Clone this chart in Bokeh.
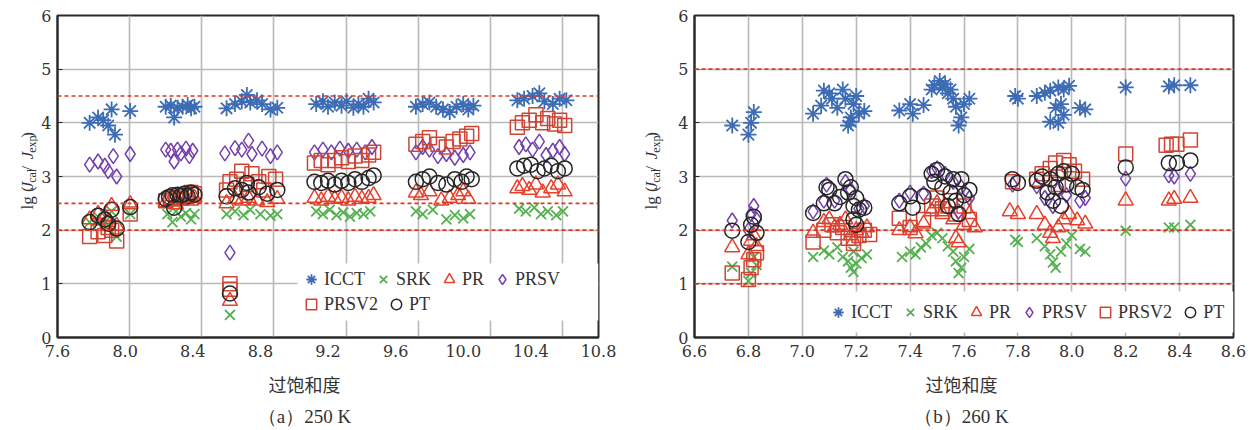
from bokeh.plotting import figure
from bokeh.models import (Range1d, FixedTicker, PrintfTickFormatter, Span, Legend,
                          LegendItem, Label, BoxAnnotation)
from bokeh.layouts import row, column
from bokeh.embed import file_html
from bokeh.resources import INLINE

# ---------------- data: (supersaturation, lg(Jcal/Jexp)) ----------------
# 250 K
ICCT_250 = [(7.79,4.0),(7.84,4.1),(7.87,4.05),(7.9,3.95),(7.92,4.25),(7.94,3.78),(8.03,4.22),
            (8.24,4.3),(8.27,4.32),(8.29,4.1),(8.31,4.28),(8.34,4.3),(8.37,4.33),(8.39,4.27),(8.41,4.3),
            (8.6,4.27),(8.65,4.35),(8.69,4.4),(8.72,4.52),(8.74,4.38),(8.78,4.42),(8.81,4.35),(8.86,4.25),(8.9,4.28),
            (9.13,4.35),(9.17,4.4),(9.2,4.3),(9.24,4.38),(9.28,4.32),(9.31,4.4),(9.35,4.28),(9.38,4.35),(9.41,4.3),(9.44,4.45),(9.47,4.38),
            (9.72,4.3),(9.76,4.35),(9.8,4.38),(9.84,4.3),(9.88,4.25),(9.92,4.2),(9.96,4.3),(10.0,4.35),(10.03,4.25),(10.06,4.32),
            (10.32,4.42),(10.36,4.45),(10.41,4.5),(10.45,4.55),(10.48,4.4),(10.53,4.35),(10.57,4.45),(10.61,4.42)]
SRK_250 = [(7.79,2.15),(7.84,2.25),(7.88,2.15),(7.9,2.1),(7.92,2.35),(7.95,1.88),(8.03,2.3),
           (8.25,2.3),(8.28,2.15),(8.3,2.35),(8.33,2.25),(8.36,2.32),(8.39,2.2),(8.41,2.3),
           (8.62,0.42),(8.6,2.3),(8.65,2.35),(8.7,2.28),(8.74,2.38),(8.8,2.3),(8.86,2.27),(8.9,2.3),
           (9.13,2.35),(9.17,2.3),(9.21,2.38),(9.25,2.28),(9.29,2.33),(9.33,2.25),(9.37,2.32),(9.41,2.3),(9.45,2.35),
           (9.72,2.35),(9.76,2.3),(9.82,2.38),(9.9,2.2),(9.95,2.28),(10.0,2.22),(10.04,2.3),
           (10.33,2.4),(10.37,2.35),(10.42,2.42),(10.46,2.3),(10.5,2.35),(10.55,2.28),(10.59,2.35)]
PR_250 = [(7.79,2.2),(7.84,2.3),(7.88,2.25),(7.9,2.15),(7.92,2.45),(7.95,2.08),(8.03,2.48),
          (8.24,2.52),(8.27,2.55),(8.3,2.48),(8.33,2.55),(8.36,2.58),(8.39,2.55),(8.41,2.6),
          (8.62,0.68),(8.6,2.5),(8.65,2.58),(8.69,2.55),(8.73,2.6),(8.78,2.55),(8.84,2.52),(8.9,2.58),
          (9.12,2.6),(9.16,2.55),(9.2,2.62),(9.24,2.58),(9.28,2.6),(9.32,2.55),(9.36,2.62),(9.4,2.58),(9.44,2.6),(9.47,2.65),
          (9.72,2.7),(9.75,2.65),(9.8,2.72),(9.87,2.55),(9.92,2.6),(9.97,2.65),(10.0,2.72),(10.03,2.58),
          (10.32,2.78),(10.35,2.82),(10.39,2.75),(10.43,2.85),(10.47,2.7),(10.52,2.78),(10.56,2.85),(10.6,2.72)]
PRSV_250 = [(7.79,3.22),(7.84,3.28),(7.88,3.2),(7.9,3.1),(7.93,3.38),(7.95,3.0),(8.03,3.42),
            (8.24,3.5),(8.27,3.48),(8.29,3.28),(8.31,3.5),(8.33,3.43),(8.36,3.52),(8.38,3.38),(8.4,3.48),
            (8.62,1.58),(8.59,3.43),(8.65,3.53),(8.69,3.5),(8.73,3.67),(8.75,3.42),(8.81,3.52),(8.86,3.38),(8.9,3.45),
            (9.12,3.45),(9.17,3.5),(9.22,3.45),(9.27,3.52),(9.32,3.48),(9.37,3.5),(9.42,3.45),(9.46,3.55),
            (9.72,3.45),(9.76,3.55),(9.8,3.5),(9.85,3.38),(9.9,3.42),(9.95,3.35),(10.0,3.4),(10.04,3.45),
            (10.33,3.55),(10.37,3.6),(10.41,3.5),(10.45,3.65),(10.49,3.4),(10.53,3.48),(10.57,3.55),(10.6,3.42)]
PRSV2_250 = [(7.79,1.88),(7.84,1.97),(7.88,1.9),(7.9,2.05),(7.92,2.0),(7.95,1.8),(8.03,2.3),
             (8.24,2.55),(8.27,2.6),(8.3,2.58),(8.33,2.62),(8.36,2.65),(8.39,2.7),(8.41,2.68),
             (8.62,1.0),(8.62,0.9),(8.6,2.75),(8.62,2.9),(8.66,2.95),(8.69,3.1),(8.72,2.85),(8.75,3.05),(8.79,2.9),(8.82,2.75),(8.85,3.0),(8.89,2.95),
             (9.12,3.25),(9.16,3.3),(9.2,3.22),(9.24,3.3),(9.28,3.35),(9.32,3.28),(9.36,3.38),(9.4,3.3),(9.44,3.4),(9.47,3.45),
             (9.72,3.6),(9.76,3.65),(9.8,3.72),(9.85,3.6),(9.9,3.55),(9.94,3.65),(9.98,3.7),(10.02,3.75),(10.05,3.8),
             (10.32,3.92),(10.35,4.0),(10.39,4.05),(10.43,4.15),(10.47,4.0),(10.5,4.08),(10.54,3.98),(10.57,4.05),(10.6,3.95)]
PT_250 = [(7.79,2.15),(7.84,2.27),(7.88,2.2),(7.9,2.12),(7.92,2.38),(7.95,2.03),(8.03,2.43),
          (8.24,2.58),(8.26,2.62),(8.28,2.65),(8.29,2.42),(8.31,2.66),(8.33,2.64),(8.35,2.68),(8.37,2.63),(8.39,2.7),(8.41,2.66),
          (8.62,0.82),(8.6,2.63),(8.65,2.78),(8.69,2.75),(8.72,2.88),(8.73,2.7),(8.79,2.8),(8.84,2.68),(8.9,2.75),
          (9.12,2.9),(9.16,2.88),(9.2,2.92),(9.24,2.85),(9.28,2.92),(9.32,2.88),(9.36,2.95),(9.4,2.9),(9.44,2.97),(9.47,3.02),
          (9.72,2.9),(9.76,2.95),(9.8,3.0),(9.85,2.88),(9.9,2.85),(9.95,2.95),(9.99,2.9),(10.02,3.0),(10.05,2.95),
          (10.32,3.15),(10.36,3.2),(10.4,3.22),(10.44,3.1),(10.48,3.15),(10.52,3.2),(10.56,3.1),(10.6,3.15)]

# 260 K
ICCT_260 = [(6.74,3.95),(6.8,3.78),(6.81,4.0),(6.82,4.2),
            (7.04,4.17),(7.07,4.32),(7.08,4.6),(7.1,4.55),(7.11,4.45),(7.13,4.28),(7.15,4.62),(7.16,4.45),(7.17,3.95),
            (7.18,4.1),(7.19,4.35),(7.2,4.5),(7.21,4.17),(7.23,4.22),(7.18,4.02),
            (7.36,4.23),(7.4,4.35),(7.41,4.17),(7.45,4.33),(7.48,4.62),(7.49,4.7),(7.51,4.78),(7.52,4.65),(7.53,4.72),
            (7.54,4.55),(7.55,4.62),(7.56,4.45),(7.57,4.3),(7.58,3.95),(7.59,4.1),(7.6,4.35),(7.62,4.45),
            (7.79,4.5),(7.8,4.45),(7.87,4.5),(7.9,4.56),(7.92,4.6),(7.95,4.66),(7.97,4.62),(7.99,4.69),(7.94,4.28),
            (7.96,4.35),(7.92,4.02),(7.95,4.0),(7.97,4.15),(8.03,4.28),(8.05,4.25),
            (8.2,4.66),(8.36,4.68),(8.38,4.7),(8.44,4.7)]
SRK_260 = [(6.74,1.32),(6.8,1.05),(6.81,1.2),(6.82,1.5),(6.83,1.35),
           (7.04,1.5),(7.08,1.62),(7.1,1.55),(7.13,1.68),(7.15,1.5),(7.17,1.42),(7.18,1.3),(7.19,1.22),(7.2,1.38),
           (7.22,1.48),(7.24,1.55),(7.19,1.6),
           (7.37,1.5),(7.4,1.6),(7.42,1.55),(7.44,1.68),(7.46,1.75),(7.48,1.9),(7.5,1.95),(7.52,1.85),(7.54,1.7),
           (7.56,1.6),(7.57,1.42),(7.58,1.2),(7.59,1.3),(7.6,1.5),(7.62,1.65),
           (7.79,1.82),(7.8,1.78),(7.87,1.85),(7.9,1.7),(7.92,1.55),(7.93,1.4),(7.94,1.3),(7.96,1.6),(7.98,1.75),
           (8.0,1.9),(8.03,1.65),(8.05,1.6),
           (8.2,1.99),(8.36,2.05),(8.38,2.05),(8.44,2.1)]
PR_260 = [(6.74,1.68),(6.8,1.55),(6.81,1.8),(6.82,1.9),(6.83,1.7),
          (7.04,1.95),(7.08,2.15),(7.1,2.2),(7.12,2.05),(7.14,2.1),(7.16,2.2),(7.18,1.9),(7.19,1.8),(7.2,2.0),
          (7.22,1.95),(7.24,2.05),
          (7.36,2.0),(7.4,2.05),(7.42,1.94),(7.45,2.12),(7.48,2.35),(7.5,2.5),(7.52,2.3),(7.54,2.4),(7.56,2.2),
          (7.57,1.85),(7.58,1.77),(7.6,2.1),(7.62,2.3),(7.64,2.05),
          (7.77,2.35),(7.8,2.3),(7.87,2.3),(7.9,2.1),(7.92,1.95),(7.93,1.85),(7.95,2.05),(7.97,2.2),(7.99,2.3),
          (8.02,2.18),(8.05,2.12),
          (8.2,2.55),(8.36,2.55),(8.38,2.58),(8.44,2.6)]
PRSV_260 = [(6.74,2.18),(6.8,2.0),(6.81,2.3),(6.82,2.45),(6.83,2.2),
            (7.04,2.35),(7.08,2.55),(7.09,2.85),(7.12,2.55),(7.16,2.9),(7.18,2.75),(7.21,2.4),(7.23,2.45),
            (7.36,2.55),(7.4,2.7),(7.45,2.68),(7.48,3.1),(7.5,3.15),(7.53,3.05),(7.56,2.9),(7.59,2.8),(7.62,2.6),(7.58,2.35),
            (7.78,2.85),(7.87,2.82),(7.9,2.6),(7.93,2.45),(7.95,2.75),(7.98,2.65),(8.03,2.55),(8.05,2.6),
            (8.2,2.96),(8.36,3.02),(8.38,3.0),(8.44,3.05)]
PRSV2_260 = [(6.74,1.2),(6.8,1.08),(6.81,1.3),(6.82,1.45),(6.83,1.58),
             (7.04,1.78),(7.08,2.0),(7.11,2.1),(7.13,1.95),(7.15,2.05),(7.17,1.85),(7.19,1.75),(7.21,1.9),(7.23,2.0),(7.25,1.92),
             (7.36,2.22),(7.4,2.05),(7.45,2.2),(7.48,2.45),(7.5,2.6),(7.52,2.4),(7.55,2.55),(7.57,2.3),(7.6,2.45),(7.62,2.2),
             (7.78,2.9),(7.87,2.95),(7.89,3.05),(7.92,3.15),(7.94,3.25),(7.97,3.3),(7.99,3.22),(8.01,3.1),(8.04,2.95),(7.95,2.85),
             (8.2,3.42),(8.35,3.58),(8.37,3.6),(8.39,3.6),(8.44,3.68)]
PT_260 = [(6.74,1.99),(6.8,1.78),(6.81,2.1),(6.82,2.25),(6.83,1.95),
          (7.04,2.32),(7.08,2.5),(7.09,2.8),(7.1,2.75),(7.12,2.5),(7.14,2.62),(7.16,2.95),(7.17,2.7),(7.18,2.8),
          (7.19,2.45),(7.2,2.6),(7.21,2.38),(7.23,2.42),(7.19,2.2),(7.2,2.1),
          (7.36,2.5),(7.4,2.63),(7.41,2.42),(7.45,2.63),(7.48,3.05),(7.49,2.9),(7.5,3.12),(7.52,2.8),(7.53,3.0),
          (7.55,2.7),(7.56,2.95),(7.57,2.55),(7.58,2.3),(7.59,2.95),(7.6,2.65),(7.62,2.75),(7.54,2.45),
          (7.78,2.95),(7.8,2.88),(7.87,2.92),(7.89,3.0),(7.91,2.7),(7.92,2.95),(7.93,2.55),(7.94,2.8),(7.95,3.05),
          (7.97,3.1),(7.98,2.85),(8.0,3.05),(8.02,2.8),(8.04,2.75),(7.96,2.45),
          (8.2,3.17),(8.36,3.25),(8.39,3.25),(8.44,3.3)]

SERIES = ["ICCT", "SRK", "PR", "PRSV", "PRSV2", "PT"]
DATA_250 = [ICCT_250, SRK_250, PR_250, PRSV_250, PRSV2_250, PT_250]
DATA_260 = [ICCT_260, SRK_260, PR_260, PRSV_260, PRSV2_260, PT_260]

X_TICKS_250 = [7.6, 8.0, 8.4, 8.8, 9.2, 9.6, 10.0, 10.4, 10.8]
X_TICKS_260 = [6.6, 6.8, 7.0, 7.2, 7.4, 7.6, 7.8, 8.0, 8.2, 8.4, 8.6]
Y_TICKS = [0, 1, 2, 3, 4, 5, 6]
REF_250 = [2.0, 2.5, 4.5]
REF_260 = [1.0, 2.0, 5.0]
CAPTION_250 = "（a）250 K"
CAPTION_260 = "（b）260 K"
X_TITLE = "过饱和度"

# ---------------- styling ----------------
MARKERS = {"ICCT": "asterisk", "SRK": "x", "PR": "triangle", "PRSV": "diamond",
           "PRSV2": "square", "PT": "circle"}
COLORS = {"ICCT": "#3d6cb4", "SRK": "#55b04f", "PR": "#e8402a", "PRSV": "#7440ad",
          "PRSV2": "#cf4535", "PT": "#262626"}
SIZES = {"ICCT": 16, "SRK": 14, "PR": 15, "PRSV": 15, "PRSV2": 14, "PT": 15}
SERIF = "Times New Roman"
AXIS_FONT = "DejaVu Serif"
CJK = "Noto Sans CJK SC"
TXT = "#333333"
W, H = 1250, 430
TOP, FH = 15, 322
TOPROW_H = 372          # height of the row that holds the two panels
BOT_H = H - TOPROW_H    # strip with x titles and captions


def blank(width, height, xr, yr):
    f = figure(width=width, height=height, x_range=Range1d(*xr), y_range=Range1d(*yr),
               x_axis_type=None, y_axis_type=None, min_border=0, output_backend="svg",
               toolbar_location=None, outline_line_color=None,
               background_fill_color="white", border_fill_color="white")
    f.xgrid.visible = False
    f.ygrid.visible = False
    return f


def y_title(width, base_x):
    # canvas-pixel coordinates: x to the right, y = 430 - canvas_y
    f = blank(width, TOPROW_H, (0, width), (H - TOPROW_H, H))
    parts = [("lg (", "normal", 17, 0, 1.361), ("J", "italic", 17, 0, 0.444),
             ("cal", "normal", 12, 4, 1.166), (" / ", "normal", 17, 0, 0.778),
             ("J", "italic", 17, 0, 0.444), ("exp", "normal", 12, 4, 1.444),
             (")", "normal", 17, 0, 0.333)]
    py = 224.0
    for text, style, fs, sub, em in parts:
        f.add_layout(Label(x=base_x + sub, y=H - py, text=text, angle=1.5707963,
                           text_font=SERIF, text_font_style=style, text_font_size=f"{fs}px",
                           text_color=TXT, text_align="left", text_baseline="alphabetic"))
        py -= em * fs
    return f


def make_panel(data, xr, xticks, grid_x, border_l, fw, border_r, fl_canvas, refs,
               legends, wbox):
    x0, x1 = xr
    p = figure(frame_width=fw, frame_height=FH, min_border_left=border_l,
               min_border_right=border_r, min_border_top=TOP,
               min_border_bottom=TOPROW_H - TOP - FH, x_range=Range1d(x0, x1),
               y_range=Range1d(0, 6), output_backend="svg", toolbar_location=None,
               background_fill_color="white", border_fill_color="white")

    def dx(px):
        return x0 + (px - fl_canvas) * (x1 - x0) / fw

    def dy(py):
        return (TOP + FH - py) * 6.0 / FH

    p.xgrid.ticker = FixedTicker(ticks=grid_x)
    p.ygrid.ticker = FixedTicker(ticks=[1, 2, 3, 4, 5])
    for g in (p.xgrid, p.ygrid):
        g.grid_line_color = "#b9b9b9"
        g.grid_line_width = 1.6
    p.xaxis.ticker = FixedTicker(ticks=xticks)
    p.xaxis.formatter = PrintfTickFormatter(format="%.1f")
    p.yaxis.ticker = FixedTicker(ticks=Y_TICKS)
    p.axis.axis_line_color = "#2a2a2a"
    p.axis.axis_line_width = 2
    p.axis.major_tick_out = 0
    p.axis.minor_tick_line_color = None
    p.axis.major_tick_line_color = "#2a2a2a"
    p.axis.major_label_text_font = AXIS_FONT
    p.axis.major_label_text_font_size = "16px"
    p.axis.major_label_text_color = TXT
    p.xaxis.major_tick_in = 0
    p.yaxis.major_tick_in = 5
    p.xaxis.major_label_standoff = 7
    p.yaxis.major_label_standoff = 6
    p.outline_line_color = "#2a2a2a"
    p.outline_line_width = 2
    p.outline_line_alpha = 1

    for v in refs:
        p.add_layout(Span(location=v, dimension="width", line_color="#e2351f",
                          line_dash="4 3", line_width=1.6))

    rends = {}
    for name, pts in zip(SERIES, data):
        xs = [a for a, b in pts]
        ys = [b for a, b in pts]
        lw = 1.8 if name in ("ICCT", "SRK") else 1.5
        rends[name] = p.scatter(xs, ys, marker=MARKERS[name], size=SIZES[name],
                                line_color=COLORS[name], fill_color=None, line_width=lw)

    # white legend area (breaks the grid lines)
    bl, br, bt, bb = wbox
    p.add_layout(BoxAnnotation(left=dx(bl), right=dx(br), top=dy(bt), bottom=dy(bb),
                               fill_color="white", fill_alpha=1, line_color=None))
    for names, loc in legends:
        lg = Legend(items=[LegendItem(label=n, renderers=[rends[n]]) for n in names],
                    orientation="horizontal", location=loc, margin=0, padding=5,
                    spacing=5, label_standoff=0, glyph_width=26, glyph_height=26,
                    label_height=20, label_text_font=SERIF, label_text_font_size="18px",
                    label_text_color=TXT, background_fill_color="white",
                    background_fill_alpha=1, border_line_color=None)
        p.add_layout(lg, "center")
    return p


GRID_250 = [8.026, 8.452, 8.878, 9.309, 9.735, 10.161, 10.587]
GRID_260 = [6.8, 7.0, 7.2, 7.4, 7.6, 7.8, 8.0, 8.2, 8.4]

yt1 = y_title(38, 27)
p1 = make_panel(DATA_250, (7.6, 10.8), X_TICKS_250, GRID_250, 18, 541, 28, 56, REF_250,
                [(["ICCT", "SRK", "PR", "PRSV"], (241, 45)), (["PRSV2", "PT"], (241, 20))],
                (296, 597, 263, 320))
yt2 = y_title(40, 25)
p2 = make_panel(DATA_260, (6.6, 8.6), X_TICKS_260, GRID_260, 28, 539, 18, 693, REF_260,
                [(SERIES, (131, 12))],
                (824, 1232, 291, 332))

# bottom strip: x titles and captions (canvas-pixel coordinates, y = 430 - canvas_y)
bot = blank(W, BOT_H, (0, W), (0, BOT_H))
for cx, cap in ((304, CAPTION_250), (961, CAPTION_260)):
    bot.add_layout(Label(x=cx, y=H - 383, text=X_TITLE, text_font=CJK, text_font_size="18px",
                         text_color=TXT, text_align="center", text_baseline="middle"))
    bot.add_layout(Label(x=cx, y=H - 416, text=cap, text_font=SERIF, text_font_size="19px",
                         text_color=TXT, text_align="center", text_baseline="middle"))

layout = column(row(yt1, p1, yt2, p2), bot)
open("out.html", "w").write(file_html(layout, INLINE))
